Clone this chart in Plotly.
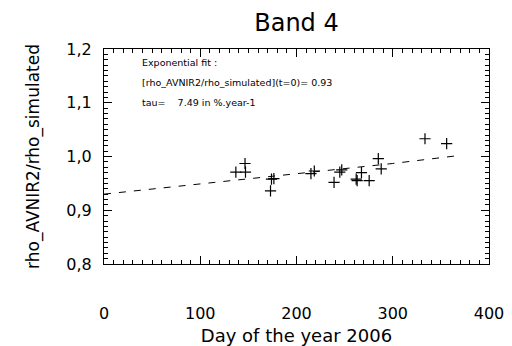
import plotly.graph_objects as go

# Measured data points (day of year, ratio)
days = [137, 146.5, 147, 174, 176.5, 173, 215, 218.5, 239, 245, 247,
        262, 263, 267.5, 275.5, 285, 288, 333.5, 356]
ratio = [0.971, 0.987, 0.971, 0.958, 0.959, 0.936, 0.968, 0.973, 0.952, 0.971, 0.975,
         0.958, 0.955, 0.970, 0.955, 0.996, 0.977, 1.033, 1.024]

# Exponential fit curve
fit_days = [0, 100, 200, 300, 365]
fit_ratio = [0.930, 0.949, 0.968, 0.987, 1.001]

x_ticks = [0, 100, 200, 300, 400]
y_ticks = [0.8, 0.9, 1.0, 1.1, 1.2]

fit_lines = ["Exponential fit :",
             "[rho_AVNIR2/rho_simulated](t=0)= 0.93",
             "tau=    7.49 in %.year-1"]

FONT = "DejaVu Sans"

fig = go.Figure()
fig.add_trace(go.Scatter(x=fit_days, y=fit_ratio, mode="lines",
                         line=dict(color="black", width=1, dash="7px,8px"),
                         hoverinfo="skip", showlegend=False))
fig.add_trace(go.Scatter(x=days, y=ratio, mode="markers",
                         marker=dict(symbol="cross-thin-open", size=8, color="black",
                                     line=dict(color="black", width=1.2)),
                         showlegend=False))

ann_y = [0.935, 0.842, 0.749]
for txt, yy in zip(fit_lines, ann_y):
    fig.add_annotation(text=txt, xref="paper", yref="paper", x=0.093, y=yy,
                       xanchor="left", yanchor="middle", showarrow=False,
                       font=dict(family=FONT, size=9.5, color="black"))

axis_common = dict(showgrid=False, zeroline=False, showline=True, linecolor="black",
                   linewidth=1, mirror="allticks", ticks="inside", tickcolor="black",
                   tickwidth=1, ticklen=8, automargin=False,
                   tickfont=dict(family=FONT, size=16, color="black"))

fig.update_xaxes(range=[0, 400], tickvals=x_ticks, ticktext=[str(v) for v in x_ticks],
                 minor=dict(dtick=10, tick0=0, ticks="inside", ticklen=4,
                            tickcolor="black", tickwidth=1),
                 ticklabelstandoff=35,
                 title=dict(text="Day of the year 2006", standoff=16,
                            font=dict(family=FONT, size=18, color="black")),
                 **axis_common)
fig.update_yaxes(range=[0.8, 1.2], tickvals=y_ticks, tickformat=".1f",
                 minor=dict(dtick=0.01, tick0=0.8, ticks="inside", ticklen=4,
                            tickcolor="black", tickwidth=1),
                 ticklabelstandoff=8,
                 title=dict(text="rho_AVNIR2/rho_simulated", standoff=22,
                            font=dict(family=FONT, size=17, color="black")),
                 **axis_common)

fig.update_layout(
    width=512, height=346,
    margin=dict(l=104, r=23, t=49, b=82),
    paper_bgcolor="white", plot_bgcolor="white",
    separators=", ",
    title=dict(text="Band 4", x=0.5, xref="paper", y=1 - 22.5 / 346, yref="container",
               xanchor="center", yanchor="middle",
               font=dict(family=FONT, size=24, color="black")),
)

fig.write_html("out.html")
